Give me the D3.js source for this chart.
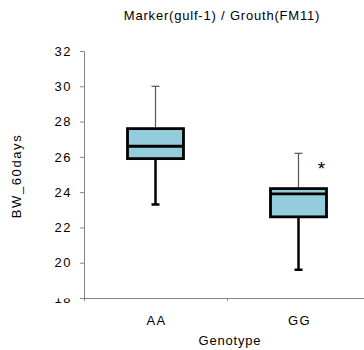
<!DOCTYPE html>
<meta charset="utf-8">
<title>Marker(gulf-1) / Grouth(FM11)</title>
<style>
body { margin: 0; background: #fff; font-family: Arial, "Liberation Sans", sans-serif; }
.axis path, .axis line { stroke: #868686; }
.axis text { font-size: 13px; fill: #000; letter-spacing: 1.5px; font-family: Arial, "Liberation Sans", sans-serif; }
</style>
<body>
<script src="https://d3js.org/d3.v7.min.js"></script>
<script>
// data
var genotypes = ["AA", "GG"];
var whiskerLow = [23.3, 19.6];
var q1 = [25.9, 22.6];
var medians = [26.6, 23.9];
var q3 = [27.6, 24.2];
var whiskerHigh = [30.0, 26.2];
var yTicks = [18, 20, 22, 24, 26, 28, 30, 32];
var marks = ["", "*"];

var width = 364, height = 350;
var plotLeft = 84, plotRight = 370, plotTop = 51, plotBottom = 298;

var svg = d3.select("body").append("svg")
  .attr("width", width)
  .attr("height", height);

var y = d3.scaleLinear().domain([18, 32]).range([plotBottom, plotTop]);
var x = d3.scaleBand().domain(genotypes).range([plotLeft, plotRight]);
var xEdge = d3.scaleLinear().domain([0, genotypes.length]).range([plotLeft, plotRight]);

// clip for the bottom tick label (cut by the plot edge like the original)
svg.append("clipPath").attr("id", "lblclip")
  .append("rect").attr("x", -plotLeft).attr("y", 0).attr("width", plotLeft).attr("height", plotBottom - 3);

var yAxis = svg.append("g")
  .attr("class", "axis")
  .attr("transform", "translate(" + plotLeft + ",0)")
  .call(d3.axisLeft(y).tickValues(yTicks).tickSize(4).tickPadding(8).tickFormat(d3.format("d")));
yAxis.selectAll(".tick").filter(function(d) { return d === 18; })
  .select("text").attr("clip-path", "url(#lblclip)");

var xAxis = svg.append("g")
  .attr("class", "axis")
  .attr("transform", "translate(0," + plotBottom + ")")
  .call(d3.axisBottom(xEdge).tickValues([0, 1, 2]).tickSize(3).tickFormat(""));

// boxes
var boxW = 56, capW = 8;
function cx(d) { return x(d) + x.bandwidth() / 2; }

var g = svg.selectAll(".box")
  .data(genotypes)
  .enter().append("g")
  .attr("class", "box");

g.append("line") // upper whisker, thin
  .attr("x1", cx).attr("x2", cx)
  .attr("y1", function(d, i) { return y(q3[i]); })
  .attr("y2", function(d, i) { return y(whiskerHigh[i]); })
  .attr("stroke", "#555").attr("stroke-width", 1.2);
g.append("line")
  .attr("x1", function(d) { return cx(d) - capW / 2; })
  .attr("x2", function(d) { return cx(d) + capW / 2; })
  .attr("y1", function(d, i) { return y(whiskerHigh[i]); })
  .attr("y2", function(d, i) { return y(whiskerHigh[i]); })
  .attr("stroke", "#555").attr("stroke-width", 1.2);

g.append("line") // lower whisker, thick
  .attr("x1", cx).attr("x2", cx)
  .attr("y1", function(d, i) { return y(q1[i]); })
  .attr("y2", function(d, i) { return y(whiskerLow[i]); })
  .attr("stroke", "#000").attr("stroke-width", 2.5);
g.append("line")
  .attr("x1", function(d) { return cx(d) - capW / 2; })
  .attr("x2", function(d) { return cx(d) + capW / 2; })
  .attr("y1", function(d, i) { return y(whiskerLow[i]); })
  .attr("y2", function(d, i) { return y(whiskerLow[i]); })
  .attr("stroke", "#000").attr("stroke-width", 2.5);

g.append("rect")
  .attr("x", function(d) { return cx(d) - boxW / 2; })
  .attr("y", function(d, i) { return y(q3[i]); })
  .attr("width", boxW)
  .attr("height", function(d, i) { return y(q1[i]) - y(q3[i]); })
  .attr("fill", "#93cddd")
  .attr("stroke", "#000").attr("stroke-width", 2.8);

g.append("line")
  .attr("x1", function(d) { return cx(d) - boxW / 2; })
  .attr("x2", function(d) { return cx(d) + boxW / 2; })
  .attr("y1", function(d, i) { return y(medians[i]); })
  .attr("y2", function(d, i) { return y(medians[i]); })
  .attr("stroke", "#000").attr("stroke-width", 2.8);

g.append("text")
  .attr("x", function(d) { return cx(d) + 23; })
  .attr("y", function(d, i) { return y(whiskerHigh[i]) + 22; })
  .attr("text-anchor", "middle")
  .style("font-size", "19px")
  .text(function(d, i) { return marks[i]; });

// category labels
svg.selectAll(".cat")
  .data(genotypes)
  .enter().append("text")
  .attr("class", "cat")
  .attr("x", function(d) { return cx(d) + 1; })
  .attr("y", 325)
  .attr("text-anchor", "middle")
  .style("font-size", "13px")
  .style("letter-spacing", "1.3px")
  .text(function(d) { return d; });

svg.append("text")
  .attr("x", 230)
  .attr("y", 345)
  .attr("text-anchor", "middle")
  .style("font-size", "13px")
  .style("letter-spacing", "0.8px")
  .text("Genotype");

svg.append("text")
  .attr("transform", "translate(21,176) rotate(-90)")
  .attr("text-anchor", "middle")
  .style("font-size", "13px")
  .style("letter-spacing", "1.6px")
  .text("BW_60days");

svg.append("text")
  .attr("x", 222)
  .attr("y", 20)
  .attr("text-anchor", "middle")
  .style("font-size", "13px")
  .style("letter-spacing", "0.8px")
  .text("Marker(gulf-1) / Grouth(FM11)");
</script>
</body>
